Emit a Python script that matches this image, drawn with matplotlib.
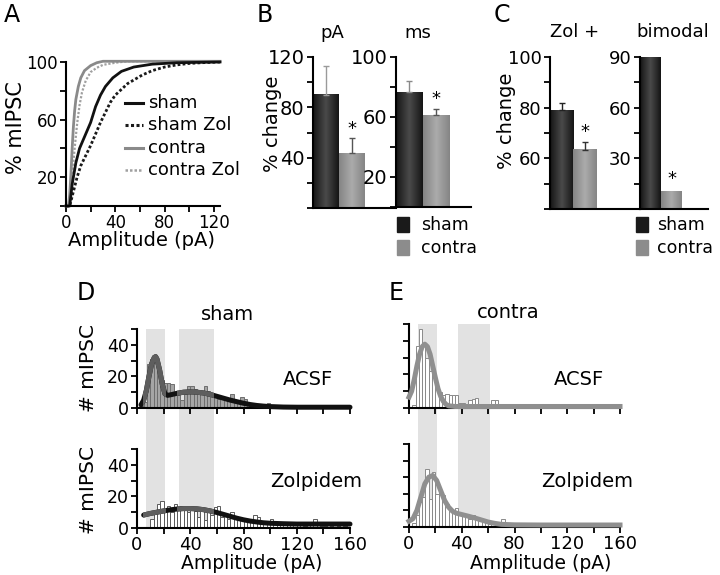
import numpy as np
import matplotlib.pyplot as plt
import matplotlib.transforms as mtrans
from matplotlib.patches import Rectangle
from matplotlib.lines import Line2D
from matplotlib.colors import LinearSegmentedColormap

plt.rcParams['font.family'] = 'DejaVu Sans'

# ---- panel A: cumulative amplitude distributions (%)
cdf_sham_x = [0, 3, 5, 8, 11, 14, 17, 20, 24, 28, 32, 38, 45, 55, 70, 90, 125]
cdf_sham_y = [0, 0, 15, 30, 40, 46, 52, 58, 69, 77, 83, 89, 93.5, 96.5, 98.5, 99.5, 100]
cdf_shamzol_x = [0, 3, 6, 9, 12, 16, 20, 24, 28, 32, 36, 40, 45, 50, 56, 62, 70, 80, 90, 100, 110, 125]
cdf_shamzol_y = [0, 0, 10, 20, 28, 35, 42, 50, 58, 65, 72, 77, 81, 85, 88, 91, 94, 96.5, 98, 99, 99.5, 100]
cdf_contra_x = [0, 2, 3, 4, 5, 6, 7, 8, 10, 12, 15, 20, 25, 30, 125]
cdf_contra_y = [0, 0, 8, 22, 40, 55, 66, 74, 83, 89, 94, 97.5, 99.5, 100.5, 100.5]
cdf_contrazol_x = [0, 3, 5, 7, 9, 11, 13, 16, 20, 25, 30, 40, 50, 125]
cdf_contrazol_y = [0, 0, 20, 40, 57, 70, 79, 87, 93, 96, 98, 99.5, 100.5, 100.5]

# ---- panels B, C: bars (sham, contra)
b_pA = [90, 43.5]
b_pA_err = [23, 12.5]
b_ms = [76.5, 61.3]
b_ms_err = [7.7, 4]
c_zol = [79, 63.3]
c_zol_err = [3, 3.3]
c_bimodal = [89.5, 10.5]

# ---- panels D, E: histograms (2.5 pA bins starting at 0) and fits
bin_w = 2.5
d_acsf = [0, 1, 4, 28, 31, 33, 26, 18, 16, 16, 15, 9, 8, 5, 9, 14, 14, 12, 10, 9,
          14, 11, 8, 9, 6, 7, 5, 6, 9, 4, 5, 7, 6, 3, 2, 2, 1, 2, 2, 3, 2, 1, 1, 1]
d_zol = [0, 0, 0, 0, 6, 10, 15, 17, 11, 14, 10, 15, 12, 14, 12, 10, 13, 11, 7, 12,
         5, 12, 8, 13, 14, 7, 9, 6, 10, 7, 6, 5, 6, 4, 5, 8, 7, 3, 4, 3,
         6, 3, 2, 4, 3, 2, 2, 3, 2, 2, 1, 2, 2, 6, 2, 1, 1, 2, 1, 2, 1, 2, 1, 2]
e_acsf = [0, 2, 37, 47, 37, 30, 22, 20, 13, 9.5, 7.5, 8.5, 7.5, 8, 7.5, 3, 3, 2, 4.5, 5.5,
          6, 0, 0, 0, 0, 5, 5, 0, 0, 0, 0, 0, 0, 0, 1.5]
e_zol = [0, 2.6, 7, 15, 18, 35, 17, 33, 20, 21, 19, 14, 11, 9, 11.5, 8, 7, 6, 5, 7.5,
         5, 4, 3, 3, 2, 2, 2, 1, 5, 1, 0, 0, 1, 0, 2, 2, 0, 0, 0, 2,
         0, 0, 0, 0, 0, 0, 0, 0, 0, 0, 0, 2]

fit_d_acsf_x = [3, 5, 7, 9, 11, 13, 14, 15, 17, 19, 21, 23, 26, 30, 35, 40, 45, 50, 55, 60,
                65, 70, 75, 80, 85, 90, 95, 100, 110, 120, 160]
fit_d_acsf_y = [2, 5, 11, 20, 28, 32, 32.5, 31, 24, 15, 9, 8, 8.5, 9.3, 10, 10.2, 10, 9.5, 8.6, 7.4,
                6.2, 5, 4, 3, 2.2, 1.6, 1.2, 0.9, 0.6, 0.5, 0.5]
fit_d_zol_x = [5, 10, 15, 20, 25, 30, 35, 40, 45, 50, 55, 60, 65, 70, 75, 80, 85, 90, 95, 100,
               110, 120, 140, 160]
fit_d_zol_y = [8.2, 9.2, 10, 10.8, 11.5, 12, 12.3, 12.3, 12.1, 11.6, 10.8, 9.8, 8.6, 7.4, 6.2, 5.2,
               4.4, 3.8, 3.3, 3.0, 2.7, 2.5, 2.5, 2.5]
fit_e_acsf_x = [0, 2, 4, 6, 8, 10, 12, 14, 16, 18, 20, 22, 24, 26, 28, 30, 35, 40, 160]
fit_e_acsf_y = [6.5, 10, 17, 25, 32, 36.5, 38, 36.5, 32, 25, 18, 11.5, 7, 4, 2.2, 1.3, 0.9, 0.9, 0.9]
fit_e_zol_x = [0, 3, 6, 9, 12, 15, 18, 21, 24, 27, 30, 33, 36, 40, 45, 50, 55, 60, 65, 70,
               80, 100, 160]
fit_e_zol_y = [3.5, 5, 10, 18, 26, 30, 31, 28, 22, 16, 12, 9.5, 8.3, 7.5, 6.5, 5.4, 4.2, 3, 2.2, 1.6,
               1.3, 1.2, 1.2]

d_bands = [(6.75, 21.25), (31.75, 57.5)]
e_bands = [(6.5, 21.5), (37, 61.5)]
d_grey_parts = [(4.5, 21.5), (30, 57.5)]

W, H = 720, 575
fig = plt.figure(figsize=(W / 100, H / 100), dpi=100)


def fx(x):
    return x / W


def fy(y):
    return 1 - y / H


def add_ax(x0, y0, x1, y1, fs=13):
    ax = fig.add_axes([fx(x0), fy(y1), (x1 - x0) / W, (y1 - y0) / H])
    ax.set_facecolor('none')
    ax.spines[['top', 'right']].set_visible(False)
    ax.spines[['left', 'bottom']].set_linewidth(1.5)
    ax.tick_params(direction='out', length=4, width=1.3, pad=2, labelsize=fs)
    return ax


def txt(x, y, s, fs=13, **kw):
    kw.setdefault('ha', 'center')
    kw.setdefault('va', 'baseline')
    fig.text(fx(x), fy(y), s, fontsize=fs, **kw)


def grad_bar(ax, x0, w, top, bottom, c_edge, c_mid):
    cm = LinearSegmentedColormap.from_list('g', [c_mid, c_edge])
    g = np.abs(np.linspace(-1, 1, 64))[None, :]
    ax.imshow(g, extent=[x0, x0 + w, bottom, top], aspect='auto', cmap=cm,
              vmin=0, vmax=1, zorder=2, interpolation='bilinear')


def bar_panel(ax, vals, errs, ylim, xmax, err_cols, star_y):
    cols = [('#151515', '#4a4a4a'), ('#858585', '#ababab')]
    for i, v in enumerate(vals):
        grad_bar(ax, i, 1, v, ylim[0], *cols[i])
        if errs is not None:
            ax.errorbar(i + 0.5, v, yerr=[[0], [errs[i]]], color=err_cols[i], lw=1,
                        capsize=2.5, capthick=1, zorder=3)
    ax.text(1.5, star_y, '*', ha='center', va='center', fontsize=13)
    ax.set_xlim(0, xmax)
    ax.set_ylim(*ylim)
    ax.set_xticks([])


# ================= A
axA = add_ax(66, 62, 220, 206, fs=12)
axA.plot(cdf_shamzol_x, cdf_shamzol_y, color='#1a1a1a', ls=(0, (1, 0.8)), lw=2, clip_on=False)
axA.plot(cdf_contrazol_x, cdf_contrazol_y, color='#a0a0a0', ls=(0, (1, 0.8)), lw=1.6, clip_on=False)
axA.plot(cdf_contra_x, cdf_contra_y, color='#8a8a8a', lw=2, clip_on=False)
axA.plot(cdf_sham_x, cdf_sham_y, color='#111111', lw=2, clip_on=False)
axA.set_xlim(0, 125)
axA.set_ylim(0, 100)
axA.set_xticks([0, 20, 40, 60, 80, 100, 120], ['0', '', '40', '', '80', '', '120'])
axA.set_yticks([0, 20, 40, 60, 80, 100], ['', '20', '', '60', '', '100'])
txt(141, 246, 'Amplitude (pA)', 14)
txt(16, 128, '% mIPSC', 15, rotation=90, va='center')

leg_a = [('sham', '#111111', '-', 2.2), ('sham Zol', '#1a1a1a', (0, (1, 0.8)), 2.2),
         ('contra', '#8a8a8a', '-', 2.2), ('contra Zol', '#a0a0a0', (0, (1, 0.8)), 1.8)]
for k, (lab, c, ls, lw) in enumerate(leg_a):
    yl = 103 + 22.3 * k
    fig.add_artist(Line2D([fx(125), fx(143)], [fy(yl), fy(yl)], color=c, ls=ls, lw=lw,
                          transform=fig.transFigure))
    txt(148, yl + 5, lab, 13, ha='left')

# ================= B
axB1 = add_ax(313, 57, 396, 208, fs=14)
bar_panel(axB1, b_pA, b_pA_err, (0, 120), 3.2, ['#9a9a9a', '#555555'], 63)
axB1.set_yticks(range(0, 121, 20), ['', '', '40', '', '80', '', '120'])
axB2 = add_ax(396, 57, 471, 207, fs=14)
bar_panel(axB2, b_ms, b_ms_err, (0, 100), 2.83, ['#8a8a8a', '#555555'], 72)
axB2.set_yticks(range(0, 101, 20), ['', '20', '', '60', '', '100'])
txt(332, 38, 'pA', 13)
txt(418, 38, 'ms', 13)
txt(272, 124, '% change', 14, rotation=90, va='center')

# ================= C
axC1 = add_ax(550, 57, 640, 209, fs=13)
bar_panel(axC1, c_zol, c_zol_err, (40, 100), 3.9, ['#222222', '#333333'], 70.5)
axC1.set_yticks(range(40, 101, 10), ['', '', '60', '', '80', '', '100'])
axC2 = add_ax(640, 57, 708, 209, fs=13)
bar_panel(axC2, c_bimodal, None, (0, 90), 3.24, None, 18)
axC2.set_yticks(range(0, 91, 15), ['', '', '30', '', '60', '', '90'])
txt(575, 37, 'Zol +', 13)
txt(673, 37, 'bimodal', 13)
txt(507, 121, '% change', 14, rotation=90, va='center')

for xs, xt in [(397, 421), (636, 657)]:
    for k, (lab, c) in enumerate([('sham', '#1a1a1a'), ('contra', '#8c8c8c')]):
        y0 = 217 + 23 * k
        fig.add_artist(Rectangle((fx(xs), fy(y0 + 15)), 12 / W, 15 / H, color=c,
                                 transform=fig.transFigure))
        txt(xt, y0 + 13, lab, 12.5, ha='left')

# panel letters
for s, x, y in [('A', 4, 22), ('B', 257, 22), ('C', 494, 22), ('D', 77, 300), ('E', 389, 300)]:
    txt(x, y, s, 17, ha='left')


# ================= D / E
def hist_ax(ax, counts, fc, ec, show_ylab, show_xlab):
    left = np.arange(len(counts)) * bin_w
    ax.bar(left, counts, width=bin_w, align='edge', facecolor=fc, edgecolor=ec, lw=0.7, zorder=1)
    ax.set_xlim(0, 160)
    ax.set_ylim(0, 50)
    ax.set_xticks(range(0, 161, 20),
                  ['0', '', '40', '', '80', '', '120', '', '160'] if show_xlab else [''] * 9)
    ax.set_yticks(range(0, 51, 10),
                  ['0', '', '20', '', '40', ''] if show_ylab else [''] * 6)
    ax.tick_params(axis='y', labelsize=12.5)


def bands(ax, spans, ytop, ybot):
    tr = mtrans.blended_transform_factory(ax.transData, fig.transFigure)
    for a, b in spans:
        fig.add_artist(Rectangle((a, fy(ybot)), b - a, fy(ytop) - fy(ybot), transform=tr,
                                 facecolor='#e2e2e2', edgecolor='none', zorder=-1))


def d_fit(ax, x, y):
    ax.plot(x, y, color='#111111', lw=3.6, zorder=3, clip_on=False, solid_capstyle='round')
    for a, b in d_grey_parts:
        ln, = ax.plot(x, y, color='#5e5e5e', lw=3.6, zorder=4)
        ln.set_clip_path(Rectangle((a, -10), b - a, 80, transform=ax.transData))


axD1 = add_ax(137, 329, 350, 408)
hist_ax(axD1, d_acsf, '#a5a5a5', '#6e6e6e', True, False)
d_fit(axD1, fit_d_acsf_x, fit_d_acsf_y)
axD2 = add_ax(137, 449, 350, 528)
hist_ax(axD2, d_zol, 'white', '#5a5a5a', True, True)
d_fit(axD2, fit_d_zol_x, fit_d_zol_y)
bands(axD1, d_bands, 329, 528)

axE1 = add_ax(409, 324, 620, 408)
hist_ax(axE1, e_acsf, 'white', '#8a8a8a', False, False)
axE1.plot(fit_e_acsf_x, fit_e_acsf_y, color='#8f8f8f', lw=3.6, zorder=3, clip_on=False)
axE2 = add_ax(409, 444, 620, 527)
hist_ax(axE2, e_zol, 'white', '#8a8a8a', False, True)
axE2.plot(fit_e_zol_x, fit_e_zol_y, color='#8f8f8f', lw=3.6, zorder=3, clip_on=False)
bands(axE1, e_bands, 324, 527)

txt(228, 320, 'sham', 14)
txt(508, 318, 'contra', 14)
txt(308, 385, 'ACSF', 14)
txt(316, 487, 'Zolpidem', 14)
txt(579, 385, 'ACSF', 14)
txt(587, 487, 'Zolpidem', 14)
txt(89, 368, '# mIPSC', 14.5, rotation=90, va='center')
txt(89, 490, '# mIPSC', 14.5, rotation=90, va='center')
txt(252, 569, 'Amplitude (pA)', 13.5)
txt(541, 569, 'Amplitude (pA)', 13.5)

fig.savefig('out.png', dpi=100)
